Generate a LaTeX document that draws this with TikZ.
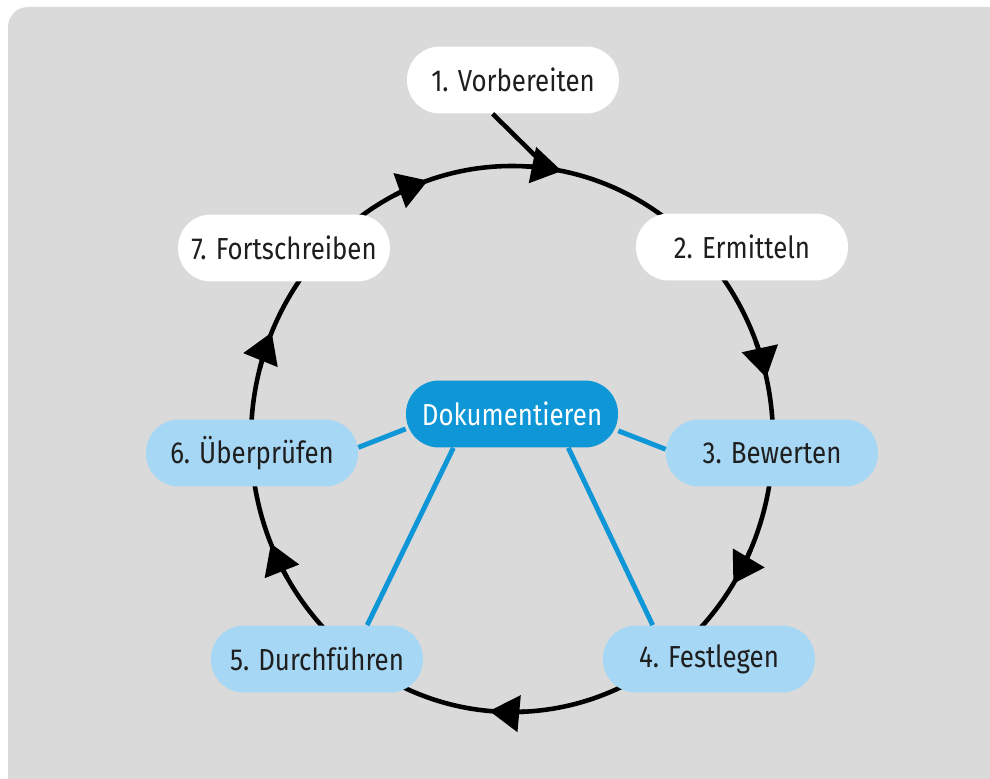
\documentclass[tikz,border=0pt]{standalone}
\usepackage{fontspec}
\newfontfamily\stepfont{Fira Sans}[FakeStretch=0.85]
\usepackage{xcolor}
\usetikzlibrary{arrows.meta}
\definecolor{bggray}{HTML}{DADADA}
\definecolor{lightblue}{HTML}{A6D7F4}
\definecolor{darkblue}{HTML}{0E96D7}
\definecolor{textgray}{HTML}{1E1E1E}
\tikzset{
  pill/.style={rounded corners=0.66cm, minimum width=4.24cm, minimum height=1.34cm,
    inner sep=0pt, text=textgray, font=\stepfont\fontsize{17.3}{19}\selectfont},
  ring/.style={line width=2.6pt, black},
  link/.style={line width=2.8pt, darkblue},
  ringarrow/.style={-{Triangle[length=0.6cm,width=0.72cm]}}
}

\begin{document}
\begin{tikzpicture}[x=0.02cm, y=0.02cm]
 \clip (0,0) rectangle (990,778);
 \fill[bggray, rounded corners=0.4cm] (8,-40) rectangle (1040,771);
 \coordinate (c) at (512,339);
 \draw[ring] (c) ellipse [x radius=261, y radius=273];
 \foreach \a in {79, 108.8, 13, -32, -95, -157.5, 157}
   \draw[ring, ringarrow] ([shift={(\a+8:261 and 273)}]c)
     arc[start angle=\a+8, end angle=\a, x radius=261, y radius=273];
 \coordinate (in1) at ([shift={(82:261 and 273)}]c);
 \foreach \name/\x/\y/\col/\txt in {v/513/698/white/1. Vorbereiten,
     s2/742/531/white/2. Ermitteln, s3/772/325/lightblue/3. Bewerten,
     s4/709/119/lightblue/4. Festlegen, s5/317/119/lightblue/5. Durchführen,
     s6/252/325/lightblue/6. Überprüfen, s7/284/530/white/7. Fortschreiben}
   \node[pill, fill=\col] (\name) at (\x,\y) {\txt};
 \node[pill, fill=darkblue, text=white] (dok) at (512,364) {Dokumentieren};
 \draw[ring] (v.-121) -- (in1);
 \foreach \a/\b/\t in {188/3/s6, -9/178/s3, -150.5/34/s5, -31.7/149/s4}
   \draw[link] (dok.\a) -- (\t.\b);
\end{tikzpicture}
\end{document}
